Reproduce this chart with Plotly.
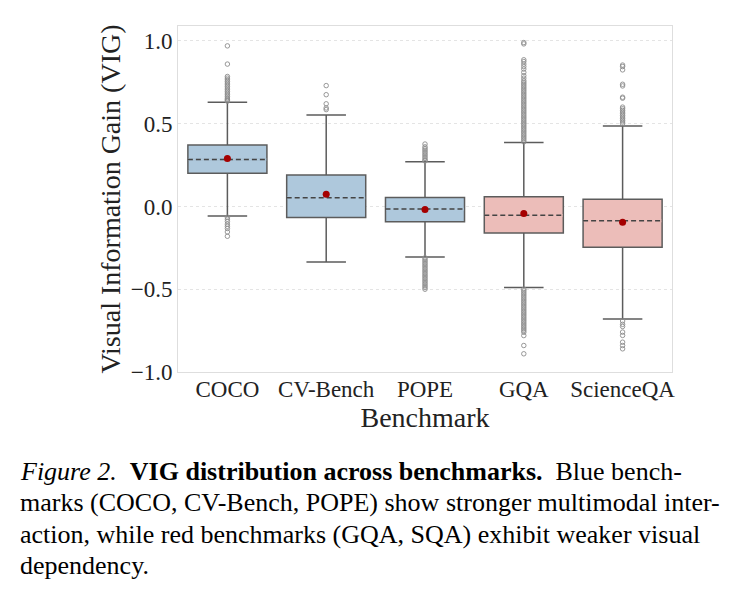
import plotly.graph_objects as go

categories = ["COCO", "CV-Bench", "POPE", "GQA", "ScienceQA"]
q1 = [0.200, -0.067, -0.093, -0.160, -0.246]
median = [0.284, 0.052, -0.016, -0.053, -0.087]
q3 = [0.371, 0.190, 0.054, 0.058, 0.044]
lower_whisker = [-0.057, -0.335, -0.305, -0.490, -0.680]
upper_whisker = [0.630, 0.553, 0.270, 0.387, 0.486]
means = [0.290, 0.073, -0.018, -0.042, -0.095]

outliers = {
    "COCO": [0.97, 0.86, 0.785, 0.775, 0.765, 0.755, 0.745, 0.735, 0.725, 0.715, 0.705,
             0.695, 0.685, 0.675, 0.665, 0.655, 0.648, 0.642, 0.636,
             -0.065, -0.077, -0.09, -0.107, -0.12, -0.133, -0.154, -0.18],
    "CV-Bench": [0.73, 0.675, 0.62, 0.595, 0.585],
    "POPE": [0.275, 0.28, 0.29, 0.30, 0.31, 0.32, 0.33, 0.34, 0.35, 0.36, 0.377,
             -0.31, -0.32, -0.33, -0.34, -0.35, -0.36, -0.37, -0.38, -0.39, -0.40,
             -0.41, -0.42, -0.43, -0.44, -0.45, -0.46, -0.47, -0.48, -0.49, -0.50],
    "GQA": [0.39, 0.40, 0.41, 0.42, 0.43, 0.44, 0.45, 0.46, 0.47, 0.48, 0.49, 0.50,
            0.51, 0.52, 0.53, 0.54, 0.55, 0.56, 0.57, 0.58, 0.59, 0.60, 0.61, 0.62,
            0.63, 0.64, 0.65, 0.66, 0.67, 0.68, 0.69, 0.70, 0.71, 0.72, 0.73, 0.74,
            0.75, 0.76, 0.775, 0.79, 0.81, 0.83, 0.845, 0.86, 0.875, 0.886, 0.982, 0.99,
            -0.50, -0.51, -0.52, -0.53, -0.54, -0.55, -0.56, -0.57, -0.58, -0.59,
            -0.60, -0.61, -0.62, -0.63, -0.64, -0.65, -0.66, -0.67, -0.68, -0.69,
            -0.70, -0.71, -0.72, -0.73, -0.74, -0.75, -0.76, -0.78, -0.84, -0.89],
    "ScienceQA": [0.50, 0.51, 0.52, 0.53, 0.54, 0.55, 0.56, 0.57, 0.58, 0.59, 0.60,
                  0.654, 0.66, 0.728, 0.738, 0.825, 0.845, 0.854,
                  -0.692, -0.712, -0.725, -0.759, -0.779, -0.82, -0.84, -0.86],
}

fill_colors = ["#aec8dc", "#aec8dc", "#aec8dc", "#ecbdb9", "#ecbdb9"]
edge = "#5c5c5c"
FONT = "Liberation Serif, 'Times New Roman', Times, 'DejaVu Serif', serif"
box_w = 0.8

fig = go.Figure()

for i, cat in enumerate(categories):
    fig.add_trace(go.Box(
        x=[i], q1=[q1[i]], median=[median[i]], q3=[q3[i]],
        lowerfence=[lower_whisker[i]], upperfence=[upper_whisker[i]],
        width=box_w, whiskerwidth=0.5, fillcolor=fill_colors[i],
        line=dict(color=edge, width=1.5), boxpoints=False, showlegend=False,
        hoverinfo="skip",
    ))

for i, cat in enumerate(categories):
    # cover the solid median drawn by the box, then draw a dashed one
    fig.add_trace(go.Scatter(
        x=[i - box_w / 2 + 0.006, i + box_w / 2 - 0.006], y=[median[i], median[i]],
        mode="lines", line=dict(color=fill_colors[i], width=2.6),
        showlegend=False, hoverinfo="skip"))
    fig.add_trace(go.Scatter(
        x=[i - box_w / 2, i + box_w / 2], y=[median[i], median[i]],
        mode="lines", line=dict(color="#444444", width=1.5, dash="5px,3px"),
        showlegend=False, hoverinfo="skip"))
    vals = outliers[cat]
    fig.add_trace(go.Scatter(
        x=[i] * len(vals), y=vals, mode="markers",
        marker=dict(symbol="circle-open", size=4.5, color="#8c8c8c",
                    line=dict(width=0.9, color="#8c8c8c")),
        showlegend=False, hoverinfo="skip"))

fig.add_trace(go.Scatter(
    x=list(range(len(categories))), y=means, mode="markers",
    marker=dict(color="#a50000", size=7), showlegend=False))

L, R, T, B = 178, 67, 26, 222
W, H = 739, 594
ph = H - T - B
pw = W - L - R

caption_lines = [
    "<i>Figure 2.</i>  <b>VIG distribution across benchmarks.</b>  Blue bench-",
    "marks (COCO, CV-Bench, POPE) show stronger multimodal inter-",
    "action, while red benchmarks (GQA, SQA) exhibit weaker visual",
    "dependency.",
]
caption_y = [471, 502, 534, 565]
annotations = []
for txt, yp in zip(caption_lines, caption_y):
    annotations.append(dict(
        text=txt, xref="paper", yref="paper",
        x=(18 - L) / pw, y=(H - B - yp) / ph,
        xanchor="left", yanchor="middle", showarrow=False,
        font=dict(family=FONT, size=26, color="black"), align="left"))

fig.update_layout(
    width=W, height=H,
    margin=dict(l=L, r=R, t=T, b=B),
    paper_bgcolor="white", plot_bgcolor="white",
    font=dict(family=FONT, color="#222222"),
    annotations=annotations,
    xaxis=dict(
        range=[-0.5, 4.5], tickmode="array",
        tickvals=list(range(len(categories))), ticktext=categories,
        tickfont=dict(size=23, color="#222222", family=FONT),
        ticklabelstandoff=-4,
        title=dict(text="Benchmark", font=dict(size=28, family=FONT, color="#222222"), standoff=2),
        showgrid=False, zeroline=False, showline=True, linecolor="#dedede",
        linewidth=1, mirror=True, ticks="",
    ),
    yaxis=dict(
        range=[-1.0, 1.09], tickmode="array",
        tickvals=[-1.0, -0.5, 0.0, 0.5, 1.0], tickformat=".1f",
        tickfont=dict(size=23, color="#222222", family=FONT),
        title=dict(text="Visual Information Gain (VIG)", font=dict(size=28, family=FONT, color="#222222"), standoff=1),
        showgrid=True, gridcolor="#e4e4e4", griddash="dot", gridwidth=1,
        zeroline=False, showline=True, linecolor="#dedede",
        linewidth=1, mirror=True, ticks="",
    ),
)

fig.write_html("out.html")
